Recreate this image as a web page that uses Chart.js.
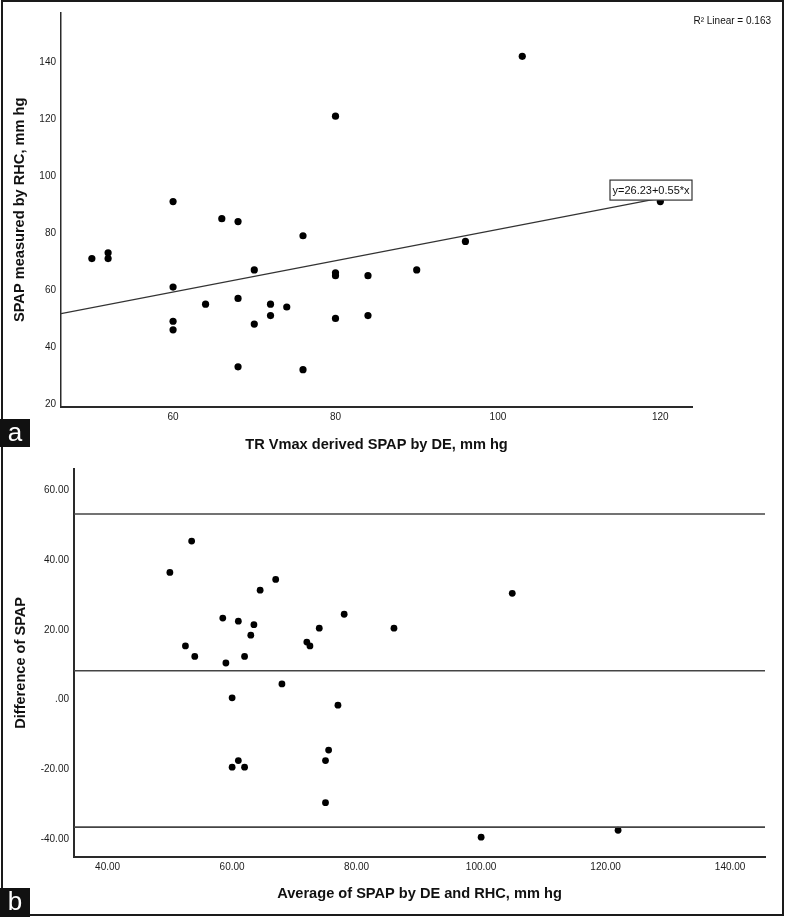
<!DOCTYPE html>
<html>
<head>
<meta charset="utf-8">
<script src="https://cdn.jsdelivr.net/npm/chart.js@4.4.1/dist/chart.umd.min.js"></script>
<style>
  html, body { margin: 0; padding: 0; background: #fff; }
  #page { position: relative; width: 785px; height: 917px; overflow: hidden; font-family: "Liberation Sans", Arial, sans-serif; }
  #frame { position: absolute; left: 1px; top: 0; width: 783px; height: 916px; border: 2px solid #1a1a1a; box-sizing: border-box; }
  canvas { position: absolute; left: 0; }
  #topChart { top: 0; }
  #bottomChart { top: 458px; }
  .tag { position: absolute; left: 0; width: 30px; background: #111; color: #fff; font-size: 26px; line-height: 26px; text-align: center; }
  #tagA { top: 419px; height: 28px; }
  #tagB { top: 888px; height: 29px; }
</style>
</head>
<body>
<div id="page">
  <div id="frame"></div>
  <canvas id="topChart" width="785" height="458"></canvas>
  <canvas id="bottomChart" width="785" height="459"></canvas>
  <div class="tag" id="tagA">a</div>
  <div class="tag" id="tagB">b</div>
</div>
<script>
const FONT = '"Liberation Sans", Arial, sans-serif';

// panel a: SPAP by DE (x) vs SPAP by RHC (y)
const spapDE = [50, 52, 52, 60, 60, 60, 60, 64, 66, 68, 68, 68, 70, 70, 72, 72, 74, 76, 76, 80, 80, 80, 80, 84, 84, 90, 96, 103, 120];
const spapRHC = [71, 73, 71, 91, 61, 49, 46, 55, 85, 84, 57, 33, 67, 48, 55, 51, 54, 79, 32, 121, 66, 65, 50, 65, 51, 67, 77, 142, 91];
const fitIntercept = 26.23;
const fitSlope = 0.55;
const fitRange = [46.2, 120];
const topXTicks = [60, 80, 100, 120];
const topYTicks = [20, 40, 60, 80, 100, 120, 140];

// panel b: Bland-Altman
const avgSPAP = [50, 53.5, 52.5, 54, 58.5, 59, 60, 60, 61, 62, 61, 62, 63, 63.5, 64.5, 67, 68, 72, 72.5, 74, 78, 77, 75.5, 75, 75, 86, 105, 100, 122];
const diffSPAP = [36.5, 45.5, 15.4, 12.4, 23.4, 10.5, 0.5, -19.4, -17.5, -19.4, 22.5, 12.4, 18.5, 21.5, 31.4, 34.5, 4.5, 16.5, 15.4, 20.5, 24.5, -1.6, -14.5, -17.5, -29.6, 20.5, 30.5, -39.5, -37.5];
const meanDiff = 8.3;
const upperLimit = 53.3;
const lowerLimit = -36.6;
const bottomXTicks = [40, 60, 80, 100, 120, 140];
const bottomYTicks = [-40, -20, 0, 20, 40, 60];

const toPoints = (xs, ys) => xs.map((x, i) => ({ x: x, y: ys[i] }));

const baseScale = (ticksList, min, max) => ({
  type: 'linear',
  min: min,
  max: max,
  afterBuildTicks: s => { s.ticks = ticksList.map(v => ({ value: v })); },
  grid: { display: false, drawTicks: false },
  border: { display: true, color: '#2a2a2a', width: 2 },
  ticks: { padding: 5, color: '#1a1a1a', font: { size: 10, family: FONT } },
});

const titleOpts = (text, pad) => ({
  display: true,
  text: text,
  color: '#111',
  font: { size: 14.6, weight: 'bold', family: FONT },
  padding: pad,
});

const topLabels = {
  id: 'topLabels',
  afterDatasetsDraw(chart) {
    const { ctx, chartArea, scales } = chart;
    ctx.save();
    // fit equation box
    const endY = scales.y.getPixelForValue(fitIntercept + fitSlope * fitRange[1]);
    const boxW = 82, boxH = 20;
    const bx = chartArea.right - boxW, by = endY + 2 - boxH;
    ctx.fillStyle = '#fff';
    ctx.fillRect(bx, by, boxW, boxH);
    ctx.strokeStyle = '#333';
    ctx.lineWidth = 1.2;
    ctx.strokeRect(bx, by, boxW, boxH);
    ctx.fillStyle = '#111';
    ctx.font = '11px ' + FONT;
    ctx.textAlign = 'center';
    ctx.textBaseline = 'middle';
    ctx.fillText('y=26.23+0.55*x', bx + boxW / 2, by + boxH / 2 + 0.5);
    // R squared
    ctx.font = '10px ' + FONT;
    ctx.textAlign = 'right';
    ctx.fillText('R\u00B2 Linear = 0.163', 771, 21);
    ctx.restore();
  }
};

new Chart(document.getElementById('topChart'), {
  type: 'scatter',
  data: {
    datasets: [
      {
        type: 'line',
        data: fitRange.map(x => ({ x: x, y: fitIntercept + fitSlope * x })),
        borderColor: '#333',
        borderWidth: 1.2,
        pointRadius: 0,
        fill: false,
      },
      {
        data: toPoints(spapDE, spapRHC),
        backgroundColor: '#000',
        borderWidth: 0,
        pointRadius: 3.6,
      },
    ],
  },
  options: {
    responsive: false,
    animation: false,
    layout: { padding: { left: 0, top: 13, right: 93, bottom: 0 } },
    plugins: { legend: { display: false }, tooltip: { enabled: false } },
    scales: {
      x: {
        ...baseScale(topXTicks, 46.2, 123.9),
        afterFit: s => { s.height = 458 - 406.7; },
        title: titleOpts('TR Vmax derived SPAP by DE, mm hg', { top: 0, bottom: 4.2 }),
      },
      y: {
        ...baseScale(topYTicks, 19, 157.2),
        border: { display: true, color: '#2a2a2a', width: 1.5 },
        afterFit: s => { s.width = 61; },
        title: titleOpts('SPAP measured by RHC, mm hg', { top: 11.2, bottom: 0 }),
      },
    },
  },
  plugins: [topLabels],
});

const hLine = y => ({
  type: 'line',
  data: [{ x: 34.6, y: y }, { x: 145.6, y: y }],
  borderColor: '#444',
  borderWidth: 1.6,
  pointRadius: 0,
  fill: false,
});

new Chart(document.getElementById('bottomChart'), {
  type: 'scatter',
  data: {
    datasets: [
      hLine(upperLimit),
      hLine(meanDiff),
      hLine(lowerLimit),
      {
        data: toPoints(avgSPAP, diffSPAP),
        backgroundColor: '#000',
        borderWidth: 0,
        pointRadius: 3.4,
      },
    ],
  },
  options: {
    responsive: false,
    animation: false,
    layout: { padding: { left: 0, top: 4, right: 20, bottom: 0 } },
    plugins: { legend: { display: false }, tooltip: { enabled: false } },
    scales: {
      x: {
        ...baseScale(bottomXTicks, 34.6, 145.6),
        afterFit: s => { s.height = 459 - 398.7; },
        ticks: {
          padding: 5, color: '#1a1a1a', font: { size: 10, family: FONT },
          callback: v => v.toFixed(2),
        },
        title: titleOpts('Average of SPAP by DE and RHC, mm hg', { top: 0, bottom: 14.2 }),
      },
      y: {
        ...baseScale(bottomYTicks, -45.1, 66.2),
        afterFit: s => { s.width = 74; },
        ticks: {
          padding: 5, color: '#1a1a1a', font: { size: 10, family: FONT },
          callback: v => (v === 0 ? '.00' : v.toFixed(2)),
        },
        title: titleOpts('Difference of SPAP', { top: 12.2, bottom: 0 }),
      },
    },
  },
});
</script>
</body>
</html>
